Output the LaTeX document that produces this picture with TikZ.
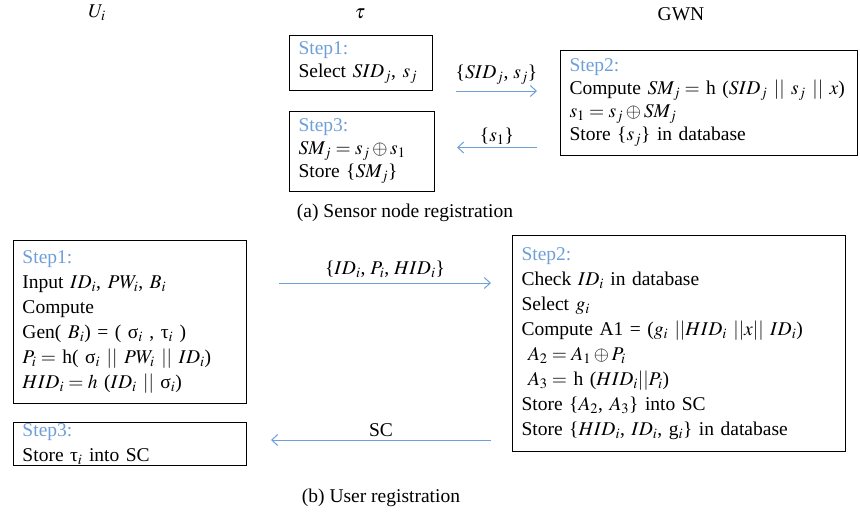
\documentclass[tikz,border=0pt]{standalone}
\usepackage{mathptmx}
\usepackage[no-math]{fontspec}
\setmainfont{Liberation Serif}
\usetikzlibrary{positioning,arrows.meta}
\definecolor{DEFINE_STEP_COLOR}{HTML}{6F9FD8}
\tikzstyle{txt}     = [font=\fontsize{19.5}{25}\selectfont]
\tikzstyle{txttop}  = [font=\fontsize{19.5}{23}\selectfont]
\tikzstyle{hdr}     = [txt, inner sep=0pt]
\tikzstyle{box}     = [rectangle, draw=black, line width=1pt, txt, inner xsep=9pt, inner ysep=0pt, anchor=north west, align=left]
\tikzset{stepbox/.style 2 args={box, text width=#1, minimum height=#2}}
\tikzstyle{msg}     = [draw=DEFINE_STEP_COLOR, line width=1pt, -{Straight Barb[length=6pt,width=11pt]}]
\tikzstyle{msglbl}  = [txt, above, inner sep=2pt]
\newcommand{\steplbl}[1]{\textcolor{DEFINE_STEP_COLOR}{#1}}

\begin{document}
\begin{tikzpicture}[x=1pt, y=-1pt]
      \useasboundingbox (0,0) rectangle (860,520);

      %%%%%%%%%%%%%%%%%%%%%%%%%%%%%%%%%%%%%%%%%%%%%%%%%
      % HEADERS
      %%%%%%%%%%%%%%%%%%%%%%%%%%%%%%%%%%%%%%%%%%%%%%%%%
      \node[hdr] (UI)  at (97,13)  {$U_i$};
      \node[hdr] (TAU) at (360,14) {$\tau$};
      \node[hdr] (GWN) at (681,14) {GWN};

      %%%%%%%%%%%%%%%%%%%%%%%%%%%%%%%%%%%%%%%%%%%%%%%%%
      % (a) SENSOR NODE REGISTRATION
      %%%%%%%%%%%%%%%%%%%%%%%%%%%%%%%%%%%%%%%%%%%%%%%%%
      \node[stepbox={125pt}{55pt}, txttop] (S1A) at (289,35)
            {\steplbl{Step1:}\\Select $SID_j$, $s_j$};
      \node[stepbox={127pt}{80pt}, txttop] (S3A) at (289,111)
            {\steplbl{Step3:}\\$SM_j = s_j \oplus s_1$\\Store \{$SM_j$\}};
      \node[stepbox={279pt}{105pt}, txttop] (S2A) at (560,50)
            {\steplbl{Step2:}\\\mbox{Compute $SM_j =$ h ($SID_j$ $||$ $s_j$ $||$ $x$)}\\$s_1 = s_j \oplus SM_j$\\Store \{$s_j$\} in database};

      \path[msg] ([xshift=23pt]S1A.south east) -- ([xshift=-23pt]S1A.south east -| S2A.west)
            node[msglbl, midway, yshift=4pt] (M1A) {\{$SID_j$, $s_j$\}};
      \path[msg] ([xshift=-23pt, yshift=4pt]S3A.east -| S2A.west) -- ([xshift=22pt, yshift=4pt]S3A.east)
            node[msglbl, midway, yshift=1pt] (M2A) {\{$s_1$\}};

      \node[txt] (CAPA) at (405,213) {(a) Sensor node registration};

      %%%%%%%%%%%%%%%%%%%%%%%%%%%%%%%%%%%%%%%%%%%%%%%%%
      % (b) USER REGISTRATION
      %%%%%%%%%%%%%%%%%%%%%%%%%%%%%%%%%%%%%%%%%%%%%%%%%
      \node[stepbox={215pt}{163pt}] (S1B) at (13,240)
            {\steplbl{Step1:}\\Input $ID_i$, $PW_i$, $B_i$\\Compute\\Gen( $B_i$) = ( σ$_i$ , τ$_i$ )\\\mbox{$P_i =$ h( σ$_i$ $||$ $PW_i$ $||$ $ID_i$)}\\$HID_i = h$ ($ID_i$ $||$ σ$_i$)};
      \node[stepbox={215pt}{43pt}] (S3B) at (13,422)
            {\steplbl{Step3:}\\Store τ$_i$ into SC};
      \node[stepbox={315pt}{216pt}] (S2B) at (512,235)
            {\steplbl{Step2:}\\Check $ID_i$ in database\\Select $g_i$\\\mbox{Compute A1 = ($g_i$ $||HID_i$ $||x||$ $ID_i$)}\\\ $A_2 = A_1 \oplus P_i$\\\ $A_3 =$ h ($HID_i||P_i$)\\Store \{$A_2$, $A_3$\} into SC\\\mbox{Store \{$HID_i$, $ID_i$, g$_i$\} in database}};

      \path[msg] ([xshift=32pt, yshift=-43pt]S1B.north east) -- ([xshift=-21pt, yshift=-43pt]S1B.north east -| S2B.west)
            node[msglbl, midway, yshift=3pt] (M1B) {\{$ID_i$, $P_i$, $HID_i$\}};
      \path[msg] ([xshift=-21pt, yshift=4pt]S3B.east -| S2B.west) -- ([xshift=24pt, yshift=4pt]S3B.east)
            node[msglbl, midway, yshift=1pt] (M2B) {SC};

      \node[txt] (CAPB) at (381,498) {(b) User registration};

\end{tikzpicture}
\end{document}
